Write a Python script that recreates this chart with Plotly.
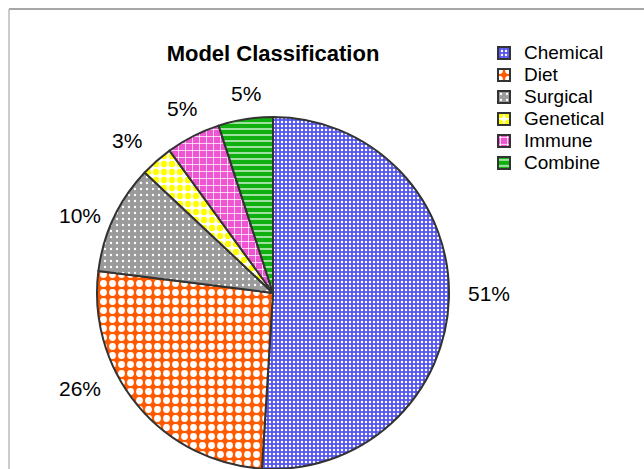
import plotly.graph_objects as go

categories = ["Chemical", "Diet", "Surgical", "Genetical", "Immune", "Combine"]
values = [51, 26, 10, 3, 5, 5]
title_text = "Model Classification"

# styles
bg_colors = ["#5454f0", "#ff5a00", "#9a9a9a", "#ffffff", "#ee55d0", "#11b011"]
fg_colors = ["#ffffff", "#ffffff", "#ffffff", "#ffff00", "#ffffff", "#ffffff"]
shapes = [".", ".", ".", ".", "+", "-"]
sizes = [4, 9, 6, 8, 7, 6]
solids = [0.32, 0.45, 0.12, 0.5, 0.2, 0.2]
# label placement (pixel centers) for percentage labels
label_px = [(489, 293), (80, 388), (80, 215), (127, 140), (182, 108), (246, 93)]

W, H = 644, 469
cx, cy, r = 273, 293, 176
FONT = "Liberation Sans, Arial, sans-serif"

legend_labels = [f"<span style='font-size:19px'>{c}</span>" for c in categories]

fig = go.Figure(go.Pie(
    labels=legend_labels,
    values=values,
    customdata=categories,
    sort=False,
    direction="clockwise",
    rotation=0,
    textinfo="none",
    marker=dict(
        colors=bg_colors,
        line=dict(color="#333333", width=2),
        pattern=dict(shape=shapes, fgcolor=fg_colors, bgcolor=bg_colors,
                     size=sizes, solidity=solids, fillmode="replace"),
    ),
    domain=dict(x=[(cx - r) / W, (cx + r) / W], y=[(H - cy - r) / H, (H - cy + r) / H]),
    hovertemplate="%{customdata}: %{percent}<extra></extra>",
))

total = sum(values)
for v, (px, py) in zip(values, label_px):
    fig.add_annotation(x=px / W, y=1 - py / H, xref="paper", yref="paper",
                       text=f"{round(100 * v / total)}%", showarrow=False,
                       xanchor="center", yanchor="middle",
                       font=dict(family=FONT, size=21, color="#000000"))

fig.add_shape(type="line", xref="paper", yref="paper", x0=9 / W, x1=1.05, y0=1 - 9 / H, y1=1 - 9 / H,
              line=dict(color="#888888", width=1.5))
fig.add_shape(type="line", xref="paper", yref="paper", x0=9 / W, x1=9 / W, y0=1 - 9 / H, y1=-0.05,
              line=dict(color="#bbbbbb", width=1.5))

fig.update_layout(
    width=W, height=H,
    margin=dict(l=0, r=0, t=0, b=0),
    paper_bgcolor="#ffffff",
    plot_bgcolor="#ffffff",
    title=dict(text="<b>" + title_text + "</b>", x=cx / W, xanchor="center", y=1 - 53 / H, yanchor="middle",
               font=dict(family=FONT, size=22, color="#000000")),
    legend=dict(x=484 / W, y=1 - 37 / H, xanchor="left", yanchor="top",
                font=dict(family=FONT, size=14.6, color="#000000"),
                tracegroupgap=0, itemwidth=30, traceorder="normal"),
    showlegend=True,
)

fig.write_html("out.html")
